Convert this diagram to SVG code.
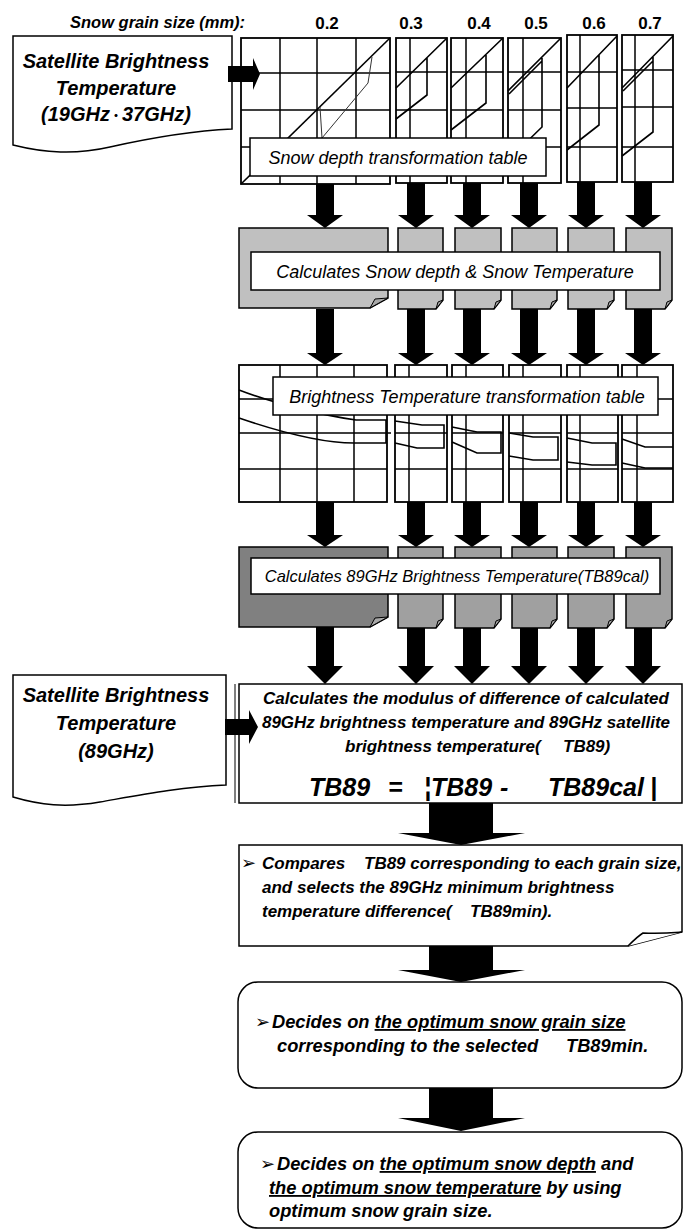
<svg xmlns="http://www.w3.org/2000/svg" width="683" height="1232" viewBox="0 0 683 1232">
<style>
.t{font-family:"Liberation Sans","Noto Sans CJK JP","DejaVu Sans",sans-serif;fill:#000}
.bi{font-weight:bold;font-style:italic}
.it{font-style:italic}
.b{font-weight:bold}
.grid{fill:none;stroke:#000;stroke-width:1.5}
.tbl{fill:#fff;stroke:#000;stroke-width:1.8}
.thin{fill:none;stroke:#333;stroke-width:1}
.crv{fill:none;stroke:#000;stroke-width:1.6}
.lbl{fill:#fff;stroke:#000;stroke-width:1.5}
.g1{fill:#c0c0c0;stroke:#000;stroke-width:1.5}
.g2{fill:#808080;stroke:#000;stroke-width:1.5}
.g3{fill:#a0a0a0;stroke:#000;stroke-width:1.5}
.fold{fill:#a8a8a8;stroke:#000;stroke-width:1}
.box{fill:#fff;stroke:#000;stroke-width:1.5}
.arr{fill:#000}
.bul{font-size:18px;font-style:normal}
</style>

<text class="t bi" x="70" y="28" font-size="16.5">Snow grain size (mm):</text>
<g class="t b" font-size="17" text-anchor="middle">
<text x="327" y="29">0.2</text><text x="411" y="29">0.3</text><text x="479" y="29">0.4</text>
<text x="536" y="29">0.5</text><text x="594" y="29">0.6</text><text x="650" y="29">0.7</text>
</g>

<g id="sat1">
<path class="box" d="M13,36 H232 V129 C190,131 150,138 110,147 C75,155 45,153 13,145 Z"/>
<g class="t bi" font-size="20" text-anchor="middle">
<text x="116" y="68">Satellite Brightness</text>
<text x="116" y="95">Temperature</text>
<text x="116" y="121">(19GHz<tspan font-size="12" font-style="normal">・</tspan>37GHz)</text>
</g>
</g>

<g id="row1">
<g id="tb1-02">
<rect class="tbl" x="241" y="38" width="149" height="146"/>
<path class="grid" d="M280,38V184M317,38V184M356,38V184M241,73H390M241,110H390M241,147H390"/>
<path class="crv" d="M241,184L390,38"/>
<path class="thin" d="M372,57L368,83L322,138L320,107"/>
</g>
<g id="tb1-03">
<rect class="tbl" x="396" y="38" width="51" height="145"/>
<path class="grid" d="M410,38V183M396,72H447M396,110H447M396,147H447"/>
<path class="crv" d="M447,38L396,88M427,58V95L396,119"/>
</g>
<g id="tb1-04">
<rect class="tbl" x="451" y="38" width="52" height="145"/>
<path class="grid" d="M466,38V183M451,72H503M451,110H503M451,147H503"/>
<path class="crv" d="M503,38L451,88M486,55V103L451,130"/>
</g>
<g id="tb1-05">
<rect class="tbl" x="508" y="38" width="53" height="145"/>
<path class="grid" d="M523,38V183M508,72H561M508,110H561M508,147H561"/>
<path class="crv" d="M561,38L508,91M509,94L542,61M542,58V127L508,160"/>
</g>
<g id="tb1-06">
<rect class="tbl" x="567" y="35" width="50" height="147"/>
<path class="grid" d="M580,35V182M567,72H617M567,108H617M567,147H617"/>
<path class="crv" d="M617,36L567,88M599,55V125L567,150"/>
</g>
<g id="tb1-07">
<rect class="tbl" x="622" y="35" width="51" height="147"/>
<path class="grid" d="M635,35V182M622,70H673M622,107H673M622,147H673"/>
<path class="crv" d="M673,36L622,88M623,91L653,61M653,57V132L622,156"/>
</g>
<g id="lbl1">
<rect class="lbl" x="250" y="138" width="296" height="38"/>
<text class="t it" x="398" y="164" font-size="18" text-anchor="middle">Snow depth transformation table</text>
</g>
</g>

<g id="row2">
<path class="g1" d="M239,228H388V298L370,308H239Z"/><path class="fold" d="M370,308L375,299L388,298Z"/>
<path class="g1" d="M398,228H443V300L436,309H398Z"/><path class="fold" d="M436,309L438,302L443,300Z"/>
<path class="g1" d="M455,228H501V300L494,309H455Z"/><path class="fold" d="M494,309L496,302L501,300Z"/>
<path class="g1" d="M512,228H557V300L550,309H512Z"/><path class="fold" d="M550,309L552,302L557,300Z"/>
<path class="g1" d="M568,228H614V300L607,309H568Z"/><path class="fold" d="M607,309L609,302L614,300Z"/>
<path class="g1" d="M626,228H672V300L665,309H626Z"/><path class="fold" d="M665,309L667,302L672,300Z"/>
<g id="lbl2">
<rect class="lbl" x="251" y="252" width="409" height="38"/>
<text class="t it" x="455" y="278" font-size="18" text-anchor="middle">Calculates Snow depth &amp; Snow Temperature</text>
</g>
</g>

<g id="row3">
<g id="tb3-02">
<rect class="tbl" x="239" y="365" width="148" height="137"/>
<path class="grid" d="M280,365V502M317,365V502M354,365V502M239,399H387M239,433H391M239,469H387"/>
<path class="crv" d="M239,390C270,402 320,415 356,420L386,420L386,443L354,443C320,443 280,432 239,418"/>
</g>
<g id="tb3-03">
<rect class="tbl" x="395" y="365" width="52" height="137"/>
<path class="grid" d="M409,365V502M395,399H447M395,433H447M395,469H447"/>
<path class="crv" d="M395,421L422,425H444V448H417L395,443"/>
</g>
<g id="tb3-04">
<rect class="tbl" x="452" y="365" width="51" height="137"/>
<path class="grid" d="M466,365V502M452,399H503M452,433H503M452,469H503"/>
<path class="crv" d="M452,427L477,432H501V453H477L452,442"/>
</g>
<g id="tb3-05">
<rect class="tbl" x="509" y="365" width="52" height="137"/>
<path class="grid" d="M523,365V502M509,399H561M509,433H561M509,469H561"/>
<path class="crv" d="M509,433L533,437H558V460H533L509,456"/>
</g>
<g id="tb3-06">
<rect class="tbl" x="567" y="365" width="51" height="137"/>
<path class="grid" d="M580,365V502M567,399H618M567,433H618M567,469H618"/>
<path class="crv" d="M567,438L592,443H616V465H592L567,462"/>
</g>
<g id="tb3-07">
<rect class="tbl" x="622" y="365" width="51" height="137"/>
<path class="grid" d="M637,365V502M622,399H673M622,433H673M622,469H673"/>
<path class="crv" d="M622,439L645,447H673M622,463L645,468H673"/>
</g>
<g id="lbl3">
<rect class="lbl" x="273" y="377" width="385" height="38"/>
<text class="t it" x="467" y="403" font-size="18" text-anchor="middle">Brightness Temperature transformation table</text>
</g>
</g>

<g id="row4">
<path class="g2" d="M239,547H388V617L370,627H239Z"/><path class="fold" d="M370,627L375,618L388,617Z"/>
<path class="g3" d="M398,547H443V619L436,628H398Z"/><path class="fold" d="M436,628L438,621L443,619Z"/>
<path class="g3" d="M455,547H501V619L494,628H455Z"/><path class="fold" d="M494,628L496,621L501,619Z"/>
<path class="g3" d="M512,547H557V619L550,628H512Z"/><path class="fold" d="M550,628L552,621L557,619Z"/>
<path class="g3" d="M568,547H614V619L607,628H568Z"/><path class="fold" d="M607,628L609,621L614,619Z"/>
<path class="g3" d="M626,547H672V619L665,628H626Z"/><path class="fold" d="M665,628L667,621L672,619Z"/>
<g id="lbl4">
<rect class="lbl" x="251" y="558" width="409" height="36"/>
<text class="t it" x="457" y="582" font-size="16.5" text-anchor="middle">Calculates 89GHz Brightness Temperature(TB89cal)</text>
</g>
</g>

<g id="sat2">
<path class="box" d="M13,675 H226 V785 C180,787 140,795 100,802 C65,808 40,805 13,797 Z"/>
<g class="t bi" font-size="20" text-anchor="middle">
<text x="116" y="702">Satellite Brightness</text>
<text x="116" y="730">Temperature</text>
<text x="116" y="758">(89GHz)</text>
</g>
</g>

<g id="diff">
<rect class="box" x="239" y="684" width="443" height="119"/>
<path d="M235,684V803" stroke="#000" stroke-width="1"/>
<g class="t bi" font-size="17">
<text x="466" y="704" text-anchor="middle">Calculates the modulus of difference of calculated</text>
<text x="466" y="728" text-anchor="middle">89GHz brightness temperature and 89GHz satellite</text>
<text y="752"><tspan x="345">brightness temperature(</tspan><tspan x="563">TB89)</tspan></text>
</g>
<text class="t bi" y="796" font-size="25"><tspan x="309">TB89</tspan><tspan x="388">=</tspan><tspan x="424">¦TB89</tspan><tspan x="500">-</tspan><tspan x="548">TB89cal</tspan><tspan x="650">|</tspan></text>
</g>

<g id="compare">
<path class="box" d="M239,845H682V932L628,946H239Z"/>
<path class="box" d="M628,946C634,940 638,936 643,933C660,934 670,933 682,932"/>
<g class="t bi" font-size="17">
<text class="bul" x="241" y="869">➢</text>
<text y="869"><tspan x="262">Compares</tspan><tspan x="364">TB89 corresponding to each grain size,</tspan></text>
<text x="262" y="893">and selects the 89GHz minimum brightness</text>
<text y="917"><tspan x="262">temperature difference(</tspan><tspan x="470">TB89min).</tspan></text>
</g>
</g>

<g id="decide1">
<rect class="box" x="238" y="982" width="444" height="106" rx="20"/>
<g class="t bi" font-size="18.3">
<text class="bul" x="255" y="1028">➢</text>
<text x="272" y="1028">Decides on <tspan text-decoration="underline">the optimum snow grain size</tspan></text>
<text y="1052"><tspan x="277">corresponding to the selected</tspan><tspan x="566">TB89min.</tspan></text>
</g>
</g>

<g id="decide2">
<rect class="box" x="238" y="1132" width="444" height="96" rx="20"/>
<g class="t bi" font-size="18.3">
<text class="bul" x="260" y="1170">➢</text>
<text x="277" y="1170">Decides on <tspan text-decoration="underline">the optimum snow depth</tspan> and</text>
<text x="269" y="1194"><tspan text-decoration="underline">the optimum snow temperature</tspan> by using</text>
<text x="269" y="1217">optimum snow grain size.</text>
</g>
</g>

<g id="connectors" class="arr">
<path d="M228,66H253V58L260,74L253,90V82H228Z"/>
<path d="M225,719H249V710L258,727L249,744V735H225Z"/>
<g id="a12">
<path d="M316,184H334V215H343L325,228L307,215H316Z"/>
<path d="M407,183H425V215H434L416,228L398,215H407Z"/>
<path d="M463,183H481V215H490L472,228L454,215H463Z"/>
<path d="M520,183H538V215H547L529,228L511,215H520Z"/>
<path d="M577,182H595V215H604L586,228L568,215H577Z"/>
<path d="M634,182H652V215H661L643,228L625,215H634Z"/>
</g>
<g id="a23">
<path d="M316,309H334V353H343L325,365L307,353H316Z"/>
<path d="M407,309H425V353H434L416,365L398,353H407Z"/>
<path d="M463,309H481V353H490L472,365L454,353H463Z"/>
<path d="M520,309H538V353H547L529,365L511,353H520Z"/>
<path d="M577,309H595V353H604L586,365L568,353H577Z"/>
<path d="M634,309H652V353H661L643,365L625,353H634Z"/>
</g>
<g id="a34">
<path d="M316,502H334V535H343L325,547L307,535H316Z"/>
<path d="M407,502H425V535H434L416,547L398,535H407Z"/>
<path d="M463,502H481V535H490L472,547L454,535H463Z"/>
<path d="M520,502H538V535H547L529,547L511,535H520Z"/>
<path d="M577,502H595V535H604L586,547L568,535H577Z"/>
<path d="M634,502H652V535H661L643,547L625,535H634Z"/>
</g>
<g id="a45">
<path d="M316,627H334V666H343L325,684L307,666H316Z"/>
<path d="M407,628H425V666H434L416,684L398,666H407Z"/>
<path d="M463,628H481V666H490L472,684L454,666H463Z"/>
<path d="M520,628H538V666H547L529,684L511,666H520Z"/>
<path d="M577,628H595V666H604L586,684L568,666H577Z"/>
<path d="M634,628H652V666H661L643,684L625,666H634Z"/>
</g>
<path d="M429,803H493V833H525L461,845L398,833H429Z"/>
<path d="M429,946H493V970H525L461,982L398,970H429Z"/>
<path d="M429,1088H493V1118H525L461,1131L398,1118H429Z"/>
</g>
</svg>
